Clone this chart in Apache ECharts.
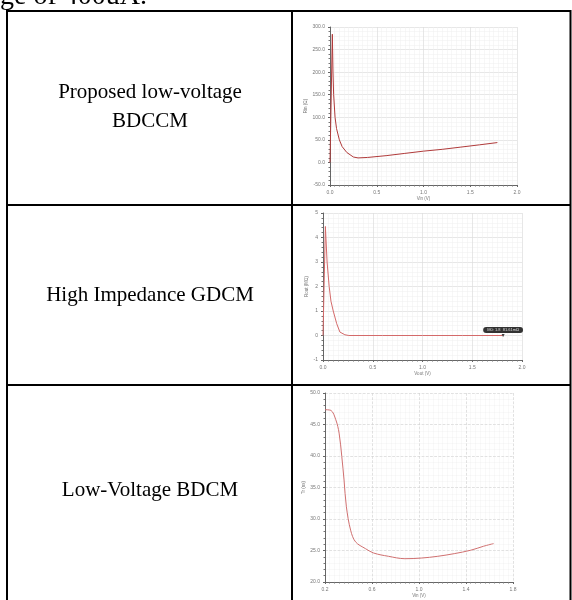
<!DOCTYPE html>
<html><head><meta charset="utf-8">
<script src="https://cdn.jsdelivr.net/npm/echarts@6/dist/echarts.min.js"></script>
<style>html,body{margin:0;padding:0;background:#fff}#c{width:572px;height:600px}</style>
</head><body><div id="c"></div>
<script>
// Row labels
var rowLabels = [['Proposed low-voltage','BDCCM'],['High Impedance GDCM'],['Low-Voltage BDCM']];
// Chart 1: proposed low-voltage BDCCM
var c1X = [0,0.025,0.032,0.039,0.054,0.07,0.1,0.13,0.18,0.25,0.3,0.4,0.6,0.8,1.0,1.2,1.4,1.6,1.79];
var c1Y = [0,284,200,150,100,75,50,35,22,12,10,11,15,20,25,29,34,39,44];
// Chart 2: high impedance GDCM
var c2X = [0,0.024,0.041,0.062,0.08,0.103,0.138,0.17,0.22,0.26,0.6,1.0,1.4,1.81];
var c2Y = [0,4.45,3,2,1.4,1,0.48,0.14,0.03,0,0,0,0,0];
// Chart 3: low-voltage BDCM
var c3X = [0.2,0.25,0.292,0.32,0.343,0.362,0.382,0.418,0.46,0.544,0.614,0.74,0.88,1.02,1.16,1.3,1.44,1.55,1.635];
var c3Y = [47.35,47.24,45.75,43.63,39.9,36.2,31.94,28.23,26.37,25.3,24.6,24.08,23.7,23.8,24.08,24.5,25.04,25.68,26.1];
// Axis ranges [min, max, interval]
var c1XR = [0,2,0.5], c1YR = [-50,300,50];
var c2XR = [0,2,0.5], c2YR = [-1,5,1];
var c3XR = [0.2,1.8,0.4], c3YR = [20,50,5];
var axisNames = [['Vin (V)','Rin (Ω)'],['Vout (V)','Rout (MΩ)'],['Vin (V)','Tr (ns)']];
var markerText = 'M0: 1.8  81.61mΩ';

function zip(a,b){return a.map(function(v,i){return [v,b[i]];});}
function xAxis(i,r,name,style){
  return {type:'value',gridIndex:i,min:r[0],max:r[1],interval:r[2],
    name:name,nameLocation:'middle',nameGap:11,nameTextStyle:{fontSize:4.5,color:'#777'},
    axisLine:{onZero:false,lineStyle:{color:'#666',width:1}},
    axisTick:{length:2,lineStyle:{color:'#666'}},
    minorTick:{show:true,splitNumber:10,length:1.5,lineStyle:{color:'#777'}},
    axisLabel:{fontSize:5,color:'#777',margin:5,formatter:function(v){return v.toFixed(1);}},
    splitLine:{show:true,lineStyle:{color:style.major,type:style.majorType,width:0.7}},
    minorSplitLine:{show:true,lineStyle:{color:style.minor,type:style.minorType,width:0.5}}};
}
function yAxis(i,r,name,gap,style,fmt){
  return {type:'value',gridIndex:i,min:r[0],max:r[1],interval:r[2],
    name:name,nameLocation:'middle',nameGap:gap,nameTextStyle:{fontSize:4.5,color:'#777'},
    axisLine:{show:true,onZero:false,lineStyle:{color:'#666',width:1}},
    axisTick:{show:true,length:2,lineStyle:{color:'#666'}},
    minorTick:{show:true,splitNumber:5,length:1.5,lineStyle:{color:'#777'}},
    axisLabel:{fontSize:5,color:'#777',margin:5,formatter:fmt},
    splitLine:{show:true,lineStyle:{color:style.major,type:style.majorType,width:0.7}},
    minorSplitLine:{show:true,lineStyle:{color:style.minor,type:style.minorType,width:0.5}}};
}
var solidStyle = {major:'#dcdcdc',majorType:'solid',minor:'#efefef',minorType:'solid'};
var dashStyle = {major:'#d4d4d4',majorType:'dashed',minor:'#e6e6e6',minorType:'dotted'};
var f1 = function(v){return v.toFixed(1);};
var f0 = function(v){return String(v);};

var chart = echarts.init(document.getElementById('c'),null,{renderer:'canvas'});
var serif = "'Liberation Serif','Times New Roman',serif";
var graphics = [
  {type:'text',left:0,top:-17,style:{text:'ge of 400uA.',font:'28px '+serif,fill:'#000'}},
  {type:'rect',shape:{x:7,y:11,width:563.5,height:600},style:{fill:'none',stroke:'#000',lineWidth:2}},
  {type:'line',shape:{x1:292,y1:11,x2:292,y2:600},style:{stroke:'#000',lineWidth:2}},
  {type:'line',shape:{x1:7,y1:205,x2:571,y2:205},style:{stroke:'#000',lineWidth:2}},
  {type:'line',shape:{x1:7,y1:385,x2:571,y2:385},style:{stroke:'#000',lineWidth:2}}
];
var centers = [[92,121],[295],[490]];
rowLabels.forEach(function(lines,ri){
  lines.forEach(function(t,li){
    graphics.push({type:'text',x:150,y:centers[ri][li],style:{text:t,font:'21px '+serif,fill:'#000',textAlign:'center',textVerticalAlign:'middle'}});
  });
});

chart.setOption({
  backgroundColor:'#fff',
  animation:false,
  grid:[
    {left:330,right:55,top:27,bottom:415},
    {left:323,right:50,top:213,bottom:240},
    {left:325,right:59,top:393,bottom:18}
  ],
  xAxis:[xAxis(0,c1XR,axisNames[0][0],solidStyle),xAxis(1,c2XR,axisNames[1][0],solidStyle),xAxis(2,c3XR,axisNames[2][0],dashStyle)],
  yAxis:[yAxis(0,c1YR,axisNames[0][1],20,solidStyle,f1),yAxis(1,c2YR,axisNames[1][1],13,solidStyle,f0),yAxis(2,c3YR,axisNames[2][1],17,dashStyle,f1)],
  series:[
    {type:'line',xAxisIndex:0,yAxisIndex:0,data:zip(c1X,c1Y),showSymbol:false,lineStyle:{color:'#b03a3a',width:1}},
    {type:'line',xAxisIndex:1,yAxisIndex:1,data:zip(c2X,c2Y),showSymbol:false,lineStyle:{color:'#d46a6a',width:1},
      markPoint:{symbol:'triangle',symbolSize:3,symbolRotate:180,itemStyle:{color:'#444'},
        data:[{coord:[c2X[c2X.length-1],c2Y[c2Y.length-1]]}],
        label:{show:true,position:'top',distance:1,formatter:markerText,fontSize:4,color:'#ddd',backgroundColor:'#333',borderRadius:3,padding:[1,4]}}},
    {type:'line',xAxisIndex:2,yAxisIndex:2,data:zip(c3X,c3Y),showSymbol:false,smooth:0.35,lineStyle:{color:'#d07070',width:1}}
  ],
  graphic:graphics
});
</script></body></html>
